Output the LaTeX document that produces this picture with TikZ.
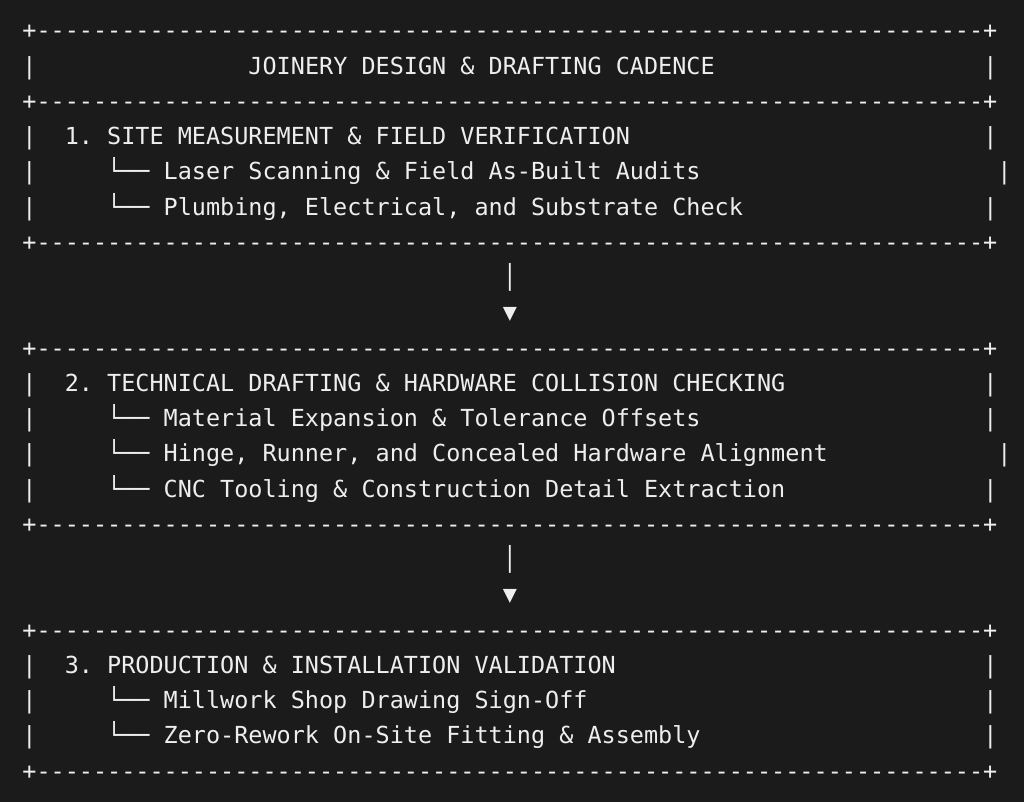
\documentclass[tikz,border=0pt]{standalone}
\usepackage{fontspec}
\newfontfamily\termfont{DejaVu Sans Mono}
\definecolor{bg}{HTML}{1B1B1B}
\definecolor{fg}{HTML}{EEEEEE}
\tikzset{
  txt/.style={anchor=base west, inner sep=0pt, text=fg,
    font=\termfont\fontsize{23.47pt}{28pt}\selectfont\frenchspacing},
}
\newcommand{\borderline}{+\foreach \i in {1,...,67}{\hbox{-}}+}
\begin{document}
\begin{tikzpicture}[x=14.13pt, y=-35.24pt]
\fill[bg] (-22.2pt,39pt) rectangle (1001.8pt,-763pt);
\useasboundingbox (-22.2pt,39pt) rectangle (1001.8pt,-763pt);

% header
\node[txt] (top) at (0,0) {\borderline};
\node[txt] (title) at (16,1) {JOINERY DESIGN \& DRAFTING CADENCE};
\node[txt] (rule1) at (0,2) {\borderline};

% stage 1
\node[txt] (s1) at (3,3) {1. SITE MEASUREMENT \& FIELD VERIFICATION};
\node[txt] (s1a) at (6,4) {└── Laser Scanning \& Field As-Built Audits};
\node[txt] (s1b) at (6,5) {└── Plumbing, Electrical, and Substrate Check};
\node[txt] (rule2) at (0,6) {\borderline};

\node[txt] (bar1) at (34,7) {│};
\node[txt] (tip1) at (34,8) {▼};

% stage 2
\node[txt] (rule3) at (0,9) {\borderline};
\node[txt] (s2) at (3,10) {2. TECHNICAL DRAFTING \& HARDWARE COLLISION CHECKING};
\node[txt] (s2a) at (6,11) {└── Material Expansion \& Tolerance Offsets};
\node[txt] (s2b) at (6,12) {└── Hinge, Runner, and Concealed Hardware Alignment};
\node[txt] (s2c) at (6,13) {└── CNC Tooling \& Construction Detail Extraction};
\node[txt] (rule4) at (0,14) {\borderline};

\node[txt] (bar2) at (34,15) {│};
\node[txt] (tip2) at (34,16) {▼};

% stage 3
\node[txt] (rule5) at (0,17) {\borderline};
\node[txt] (s3) at (3,18) {3. PRODUCTION \& INSTALLATION VALIDATION};
\node[txt] (s3a) at (6,19) {└── Millwork Shop Drawing Sign-Off};
\node[txt] (s3b) at (6,20) {└── Zero-Rework On-Site Fitting \& Assembly};
\node[txt] (bottom) at (0,21) {\borderline};

% side walls
\foreach \r in {1,3,4,5,10,11,12,13,18,19,20}
  \node[txt] (lw\r) at (0,\r) {|};
\foreach \r/\c in {1/68,3/68,4/69,5/68,10/68,11/68,12/69,13/68,18/68,19/68,20/68}
  \node[txt] (rw\r) at (\c,\r) {|};
\end{tikzpicture}
\end{document}
